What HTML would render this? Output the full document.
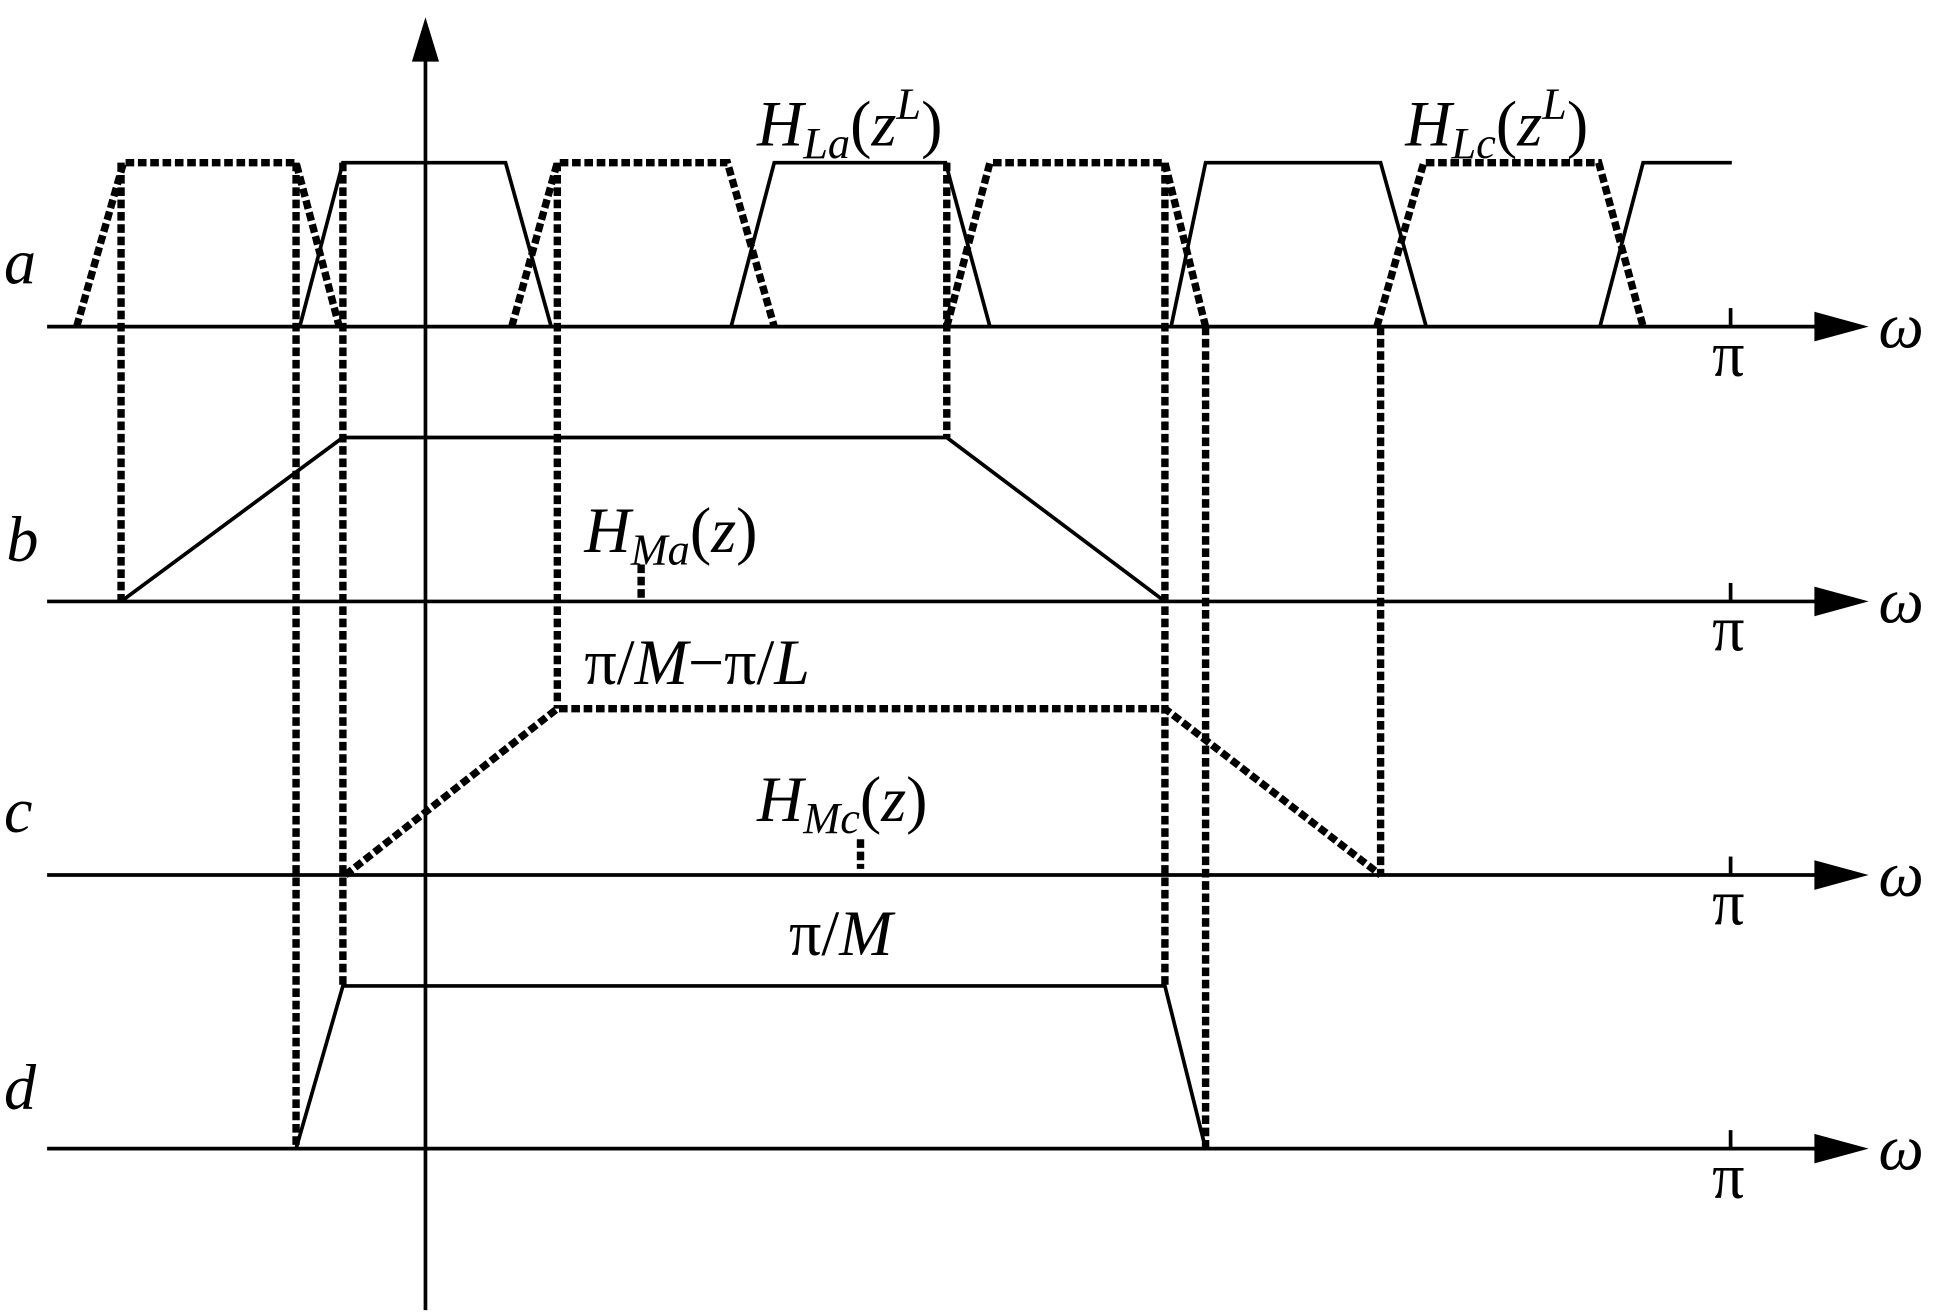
<!DOCTYPE html>
<html><head><meta charset="utf-8"><style>html,body{margin:0;padding:0;background:#fff}svg{display:block}</style></head>
<body>
<svg width="1933" height="1315" viewBox="0 0 1568 1067" xmlns="http://www.w3.org/2000/svg" font-family="'Liberation Serif', serif">
<g stroke="#000" stroke-width="3" fill="none">
<line x1="38" y1="265" x2="1480" y2="265"/>
<line x1="38" y1="488" x2="1480" y2="488"/>
<line x1="38" y1="710" x2="1480" y2="710"/>
<line x1="38" y1="932" x2="1480" y2="932"/>
<line x1="345" y1="1063" x2="345" y2="45"/>
<line x1="1404" y1="250" x2="1404" y2="265"/>
<line x1="1404" y1="473" x2="1404" y2="488"/>
<line x1="1404" y1="695" x2="1404" y2="710"/>
<line x1="1404" y1="917" x2="1404" y2="932"/>
<polyline points="243,265 278,132 410,132 447,265"/>
<polyline points="593,265 628,132 767,132 803,265"/>
<polyline points="950,265 978,132 1120,132 1157,265"/>
<polyline points="1298,265 1333,132 1405,132"/>
<polyline points="98,488 278,355 768,355 945,488"/>
<polyline points="240,932 278,800 945,800 978,932"/>
</g>
<g fill="#000">
<polygon points="1472,253 1516,265 1472,277"/>
<polygon points="1472,476 1516,488 1472,500"/>
<polygon points="1472,698 1516,710 1472,722"/>
<polygon points="1472,920 1516,932 1472,944"/>
<polygon points="334,50 345,14 356,50"/>
</g>
<g stroke="#000" stroke-width="6" fill="none" stroke-dasharray="7,3">
<polyline points="62,265 100,132 240,132 275,265"/>
<polyline points="415,265 452,132 590,132 628,265"/>
<polyline points="768,265 803,132 945,132 978,265"/>
<polyline points="1117,265 1155,132 1297,132 1333,265"/>
<line x1="98" y1="132" x2="98" y2="488"/>
<line x1="768" y1="132" x2="768" y2="355"/>
<line x1="452" y1="132" x2="452" y2="575"/>
<line x1="945" y1="132" x2="945" y2="800"/>
<line x1="1120" y1="265" x2="1120" y2="710"/>
<line x1="278" y1="132" x2="278" y2="800"/>
<line x1="240" y1="132" x2="240" y2="932"/>
<line x1="978" y1="265" x2="978" y2="932"/>
<polyline points="280,710 452,575 945,575 1120,710"/>
<line x1="520" y1="458" x2="520" y2="485"/>
<line x1="698" y1="681" x2="698" y2="705"/>
</g>
<g font-size="52" fill="#000">
<text x="3" y="230" font-style="italic">a</text>
<text x="5" y="455" font-style="italic">b</text>
<text x="3" y="675" font-style="italic">c</text>
<text x="3" y="900" font-style="italic">d</text>
<text x="1389" y="305">π</text>
<text x="1389" y="528">π</text>
<text x="1389" y="750">π</text>
<text x="1389" y="972">π</text>
<text x="1524" y="282" font-style="italic">ω</text>
<text x="1524" y="505" font-style="italic">ω</text>
<text x="1524" y="727" font-style="italic">ω</text>
<text x="1524" y="949" font-style="italic">ω</text>
<text x="614" y="118"><tspan font-style="italic">H</tspan><tspan font-size="36" dy="10" font-style="italic">La</tspan><tspan dy="-10">(</tspan><tspan font-style="italic">z</tspan><tspan font-size="36" dy="-22" font-style="italic">L</tspan><tspan dy="22">)</tspan></text>
<text x="1140" y="118"><tspan font-style="italic">H</tspan><tspan font-size="36" dy="10" font-style="italic">Lc</tspan><tspan dy="-10">(</tspan><tspan font-style="italic">z</tspan><tspan font-size="36" dy="-22" font-style="italic">L</tspan><tspan dy="22">)</tspan></text>
<text x="474" y="448"><tspan font-style="italic">H</tspan><tspan font-size="36" dy="10" font-style="italic">Ma</tspan><tspan dy="-10">(</tspan><tspan font-style="italic">z</tspan>)</text>
<text x="614" y="666"><tspan font-style="italic">H</tspan><tspan font-size="36" dy="10" font-style="italic">Mc</tspan><tspan dy="-10">(</tspan><tspan font-style="italic">z</tspan>)</text>
<text x="474" y="555">π/<tspan font-style="italic">M</tspan>−π/<tspan font-style="italic">L</tspan></text>
<text x="640" y="775">π/<tspan font-style="italic">M</tspan></text>
</g>
</svg>
</body></html>
